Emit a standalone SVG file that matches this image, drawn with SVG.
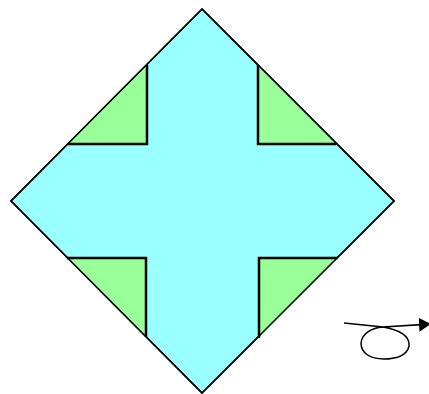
<svg xmlns="http://www.w3.org/2000/svg" width="429" height="394" viewBox="0 0 429 394">
<style>
.tri{fill:#99ff99;stroke:none}
.tri-edge{fill:none;stroke:#000;stroke-width:2.5;stroke-linejoin:miter}
.sym{fill:none;stroke:#000;stroke-width:1.5}
</style>
<defs>
<marker id="ah" markerUnits="userSpaceOnUse" markerWidth="14" markerHeight="16" refX="12" refY="7" orient="auto">
<path d="M0,0 L12,7 L0,14 Z" fill="#000"/>
</marker>
</defs>
<rect width="429" height="394" fill="#fff"/>
<g id="diamond">
<polygon points="202,9 394,201 202,393 11,201" fill="#99ffff" stroke="#000" stroke-width="1.5"/>
</g>
<g id="tri-tl"><polygon class="tri" points="147,65 147,144 68,144"/><path class="tri-edge" d="M68,144 L147,144 L147,65"/></g>
<g id="tri-tr"><polygon class="tri" points="258,65 258,144 336,144"/><path class="tri-edge" d="M258,65 L258,144 L336,144"/></g>
<g id="tri-bl"><polygon class="tri" points="67,258 146,258 146,337"/><path class="tri-edge" d="M67,258 L146,258 L146,337"/></g>
<g id="tri-br"><polygon class="tri" points="338,258 259,258 259,338"/><path class="tri-edge" d="M338,258 L259,258 L259,338"/></g>
<g id="edges">
<path d="M202,9 L394,201 L202,393 L11,201 Z" fill="none" stroke="#000" stroke-width="1.5"/>
</g>
<g id="symbol">
<path class="sym" d="M344,323 L383,327 C400,330 410,336 409,346 C407,356 395,359 384,359 C370,359 361,353 361,343 C362,333 372,328 383,327 L431,324" marker-end="url(#ah)"/>
</g>
</svg>
